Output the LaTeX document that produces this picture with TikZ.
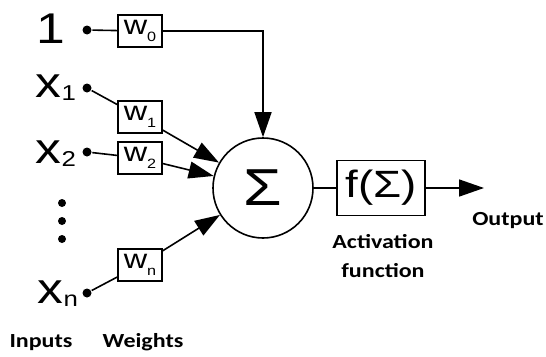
\documentclass[tikz,border=0pt]{standalone}
\usepackage{graphicx}
\usepackage{fontspec}
\setmainfont[FakeStretch=1.2]{Liberation Sans}
\newfontfamily\labelfont[FakeStretch=1.2]{Carlito}
\usetikzlibrary{arrows.meta}
\newcommand\idx[2][-0.08em]{\raisebox{#1}{\scalebox{0.5}{#2}}}

\begin{document}
\begin{tikzpicture}[
  x=1pt, y=-1pt,
  line width=1.6pt,
  input/.style = {anchor=base west, inner sep=0pt, font=\fontsize{43}{43}\selectfont},
  dot/.style = {circle, fill, inner sep=0pt, minimum size=9pt},
  weight/.style = {draw, minimum width=44pt, minimum height=32pt, inner sep=0pt, font=\fontsize{27}{27}\selectfont},
  caption/.style = {anchor=base, inner sep=0pt, align=center, font=\labelfont\bfseries\fontsize{20}{29}\selectfont},
  arrow/.style = {-{Triangle[length=25pt, width=17pt]}}
]
  \useasboundingbox (0,0) rectangle (546,356);

  % inputs
  \node[input] (one) at (36,43) {1};
  \node[input] (xone) at (35,97) {x\idx{1}};
  \node[input] (xtwo) at (35,163) {x\idx{2}};
  \node[input] (xn) at (37,303) {x\idx{n}};
  \foreach \y in {203,221,239}
    \fill (62,\y) circle (4);

  \node[dot] (done) at (87,30) {};
  \node[dot] (dxone) at (87,88) {};
  \node[dot] (dxtwo) at (87,152) {};
  \node[dot] (dxn) at (87,293) {};

  % weights
  \node[weight] (wzero) at (140,31) {w\idx[-0.25em]{0}};
  \node[weight] (wone) at (140,117) {w\idx[-0.25em]{1}};
  \node[weight] (wtwo) at (140,158) {w\idx[-0.25em]{2}};
  \node[weight] (wn) at (140,265) {w\idx[-0.25em]{n}};

  % sum and activation
  \node[draw, circle, minimum size=100pt, inner sep=0pt, font=\fontsize{52}{52}\selectfont] (sum) at (263,188) {Σ};
  \node[draw, minimum width=88pt, minimum height=55pt, inner sep=0pt, font=\fontsize{38}{38}\selectfont] (act) at (381,188) {f(Σ)};
  \coordinate (out) at (484,188);

  \draw (done) -- (wzero);
  \draw (dxone) -- (wone);
  \draw (dxtwo) -- (wtwo);
  \draw (dxn) -- (wn);

  \draw[arrow] (wzero.east) -| (sum.north);
  \draw[arrow] (wone) -- (sum);
  \draw[arrow] (wtwo) -- (sum);
  \draw[arrow] (wn) -- (sum);
  \draw (sum) -- (act);
  \draw[arrow] (act) -- (out);

  % captions
  \node[caption] (inputs) at (41,347) {Inputs};
  \node[caption] (weights) at (143,347) {Weights};
  \node[caption] (activation) at (383,277) {Activation\\function};
  \node[caption] (output) at (508,225) {Output};
\end{tikzpicture}
\end{document}
